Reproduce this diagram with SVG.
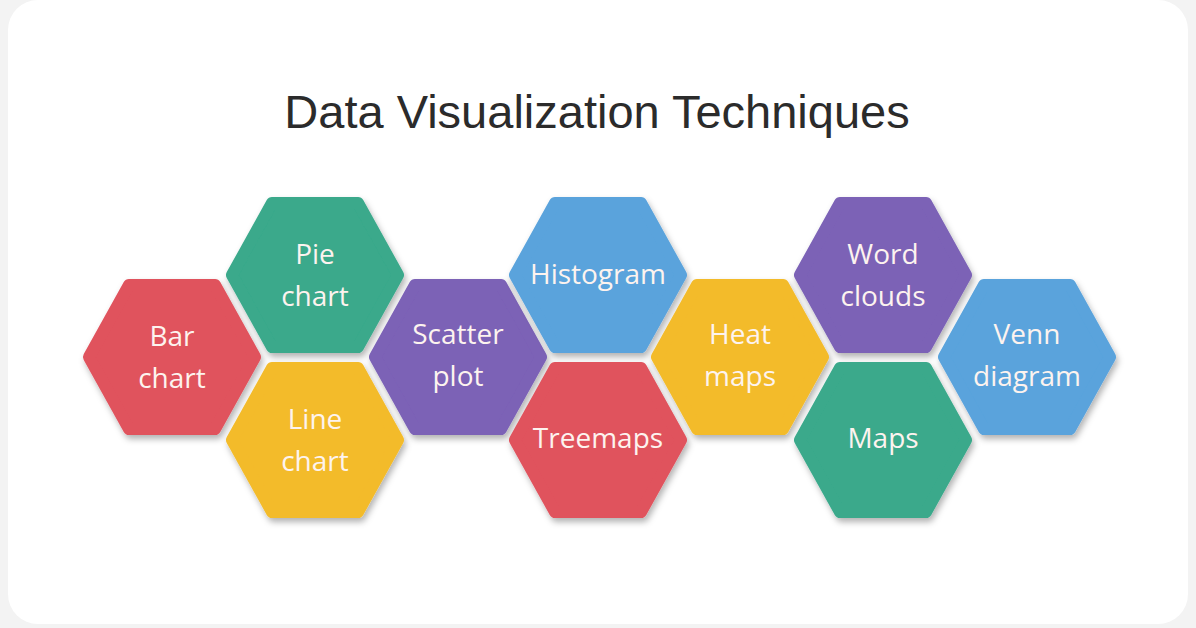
<svg xmlns="http://www.w3.org/2000/svg" xmlns:xlink="http://www.w3.org/1999/xlink" width="1196" height="628" viewBox="0 0 1196 628">
<style>
.t{font-family:"Open Sans","Noto Sans",sans-serif;font-size:28px;fill:#fdf3ef;text-anchor:middle}
.r{fill:#e0525d;stroke:#e0525d}.g{fill:#3aa98b;stroke:#3aa98b}.y{fill:#f3bb2a;stroke:#f3bb2a}.p{fill:#7b62b6;stroke:#7b62b6}.b{fill:#5aa3dc;stroke:#5aa3dc}
</style>
<defs>
<filter id="sh" x="-20%" y="-20%" width="140%" height="150%"><feDropShadow dx="2" dy="4" stdDeviation="3" flood-color="#000" flood-opacity="0.3"/></filter>
<polygon id="hex" points="-83,0 -43,-72 43,-72 83,0 43,72 -43,72" stroke-width="12" stroke-linejoin="round" filter="url(#sh)"/>
</defs>
<rect x="0" y="0" width="1196" height="628" fill="#f3f3f3"/>
<rect x="8" y="0" width="1180" height="624" rx="30" fill="#ffffff"/>
<text x="597" y="128" font-family="Liberation Sans,Arial,sans-serif" font-size="47" fill="#2b2b2b" text-anchor="middle">Data Visualization Techniques</text>
<g id="connectors"/>
<g id="bar"><use xlink:href="#hex" class="r" x="172" y="357"/><text class="t" x="172" y="346">Bar</text><text class="t" x="172" y="388">chart</text></g>
<g id="pie"><use xlink:href="#hex" class="g" x="315" y="275"/><text class="t" x="315" y="264">Pie</text><text class="t" x="315" y="306">chart</text></g>
<g id="line"><use xlink:href="#hex" class="y" x="315" y="440"/><text class="t" x="315" y="429">Line</text><text class="t" x="315" y="471">chart</text></g>
<g id="scatter"><use xlink:href="#hex" class="p" x="458" y="357"/><text class="t" x="458" y="344">Scatter</text><text class="t" x="458" y="386">plot</text></g>
<g id="histogram"><use xlink:href="#hex" class="b" x="598" y="275"/><text class="t" x="598" y="284">Histogram</text></g>
<g id="treemaps"><use xlink:href="#hex" class="r" x="598" y="440"/><text class="t" x="598" y="448">Treemaps</text></g>
<g id="heat"><use xlink:href="#hex" class="y" x="740" y="357"/><text class="t" x="740" y="344">Heat</text><text class="t" x="740" y="386">maps</text></g>
<g id="word"><use xlink:href="#hex" class="p" x="883" y="275"/><text class="t" x="883" y="264">Word</text><text class="t" x="883" y="306">clouds</text></g>
<g id="maps"><use xlink:href="#hex" class="g" x="883" y="440"/><text class="t" x="883" y="448">Maps</text></g>
<g id="venn"><use xlink:href="#hex" class="b" x="1027" y="357"/><text class="t" x="1027" y="344">Venn</text><text class="t" x="1027" y="386">diagram</text></g>
</svg>
